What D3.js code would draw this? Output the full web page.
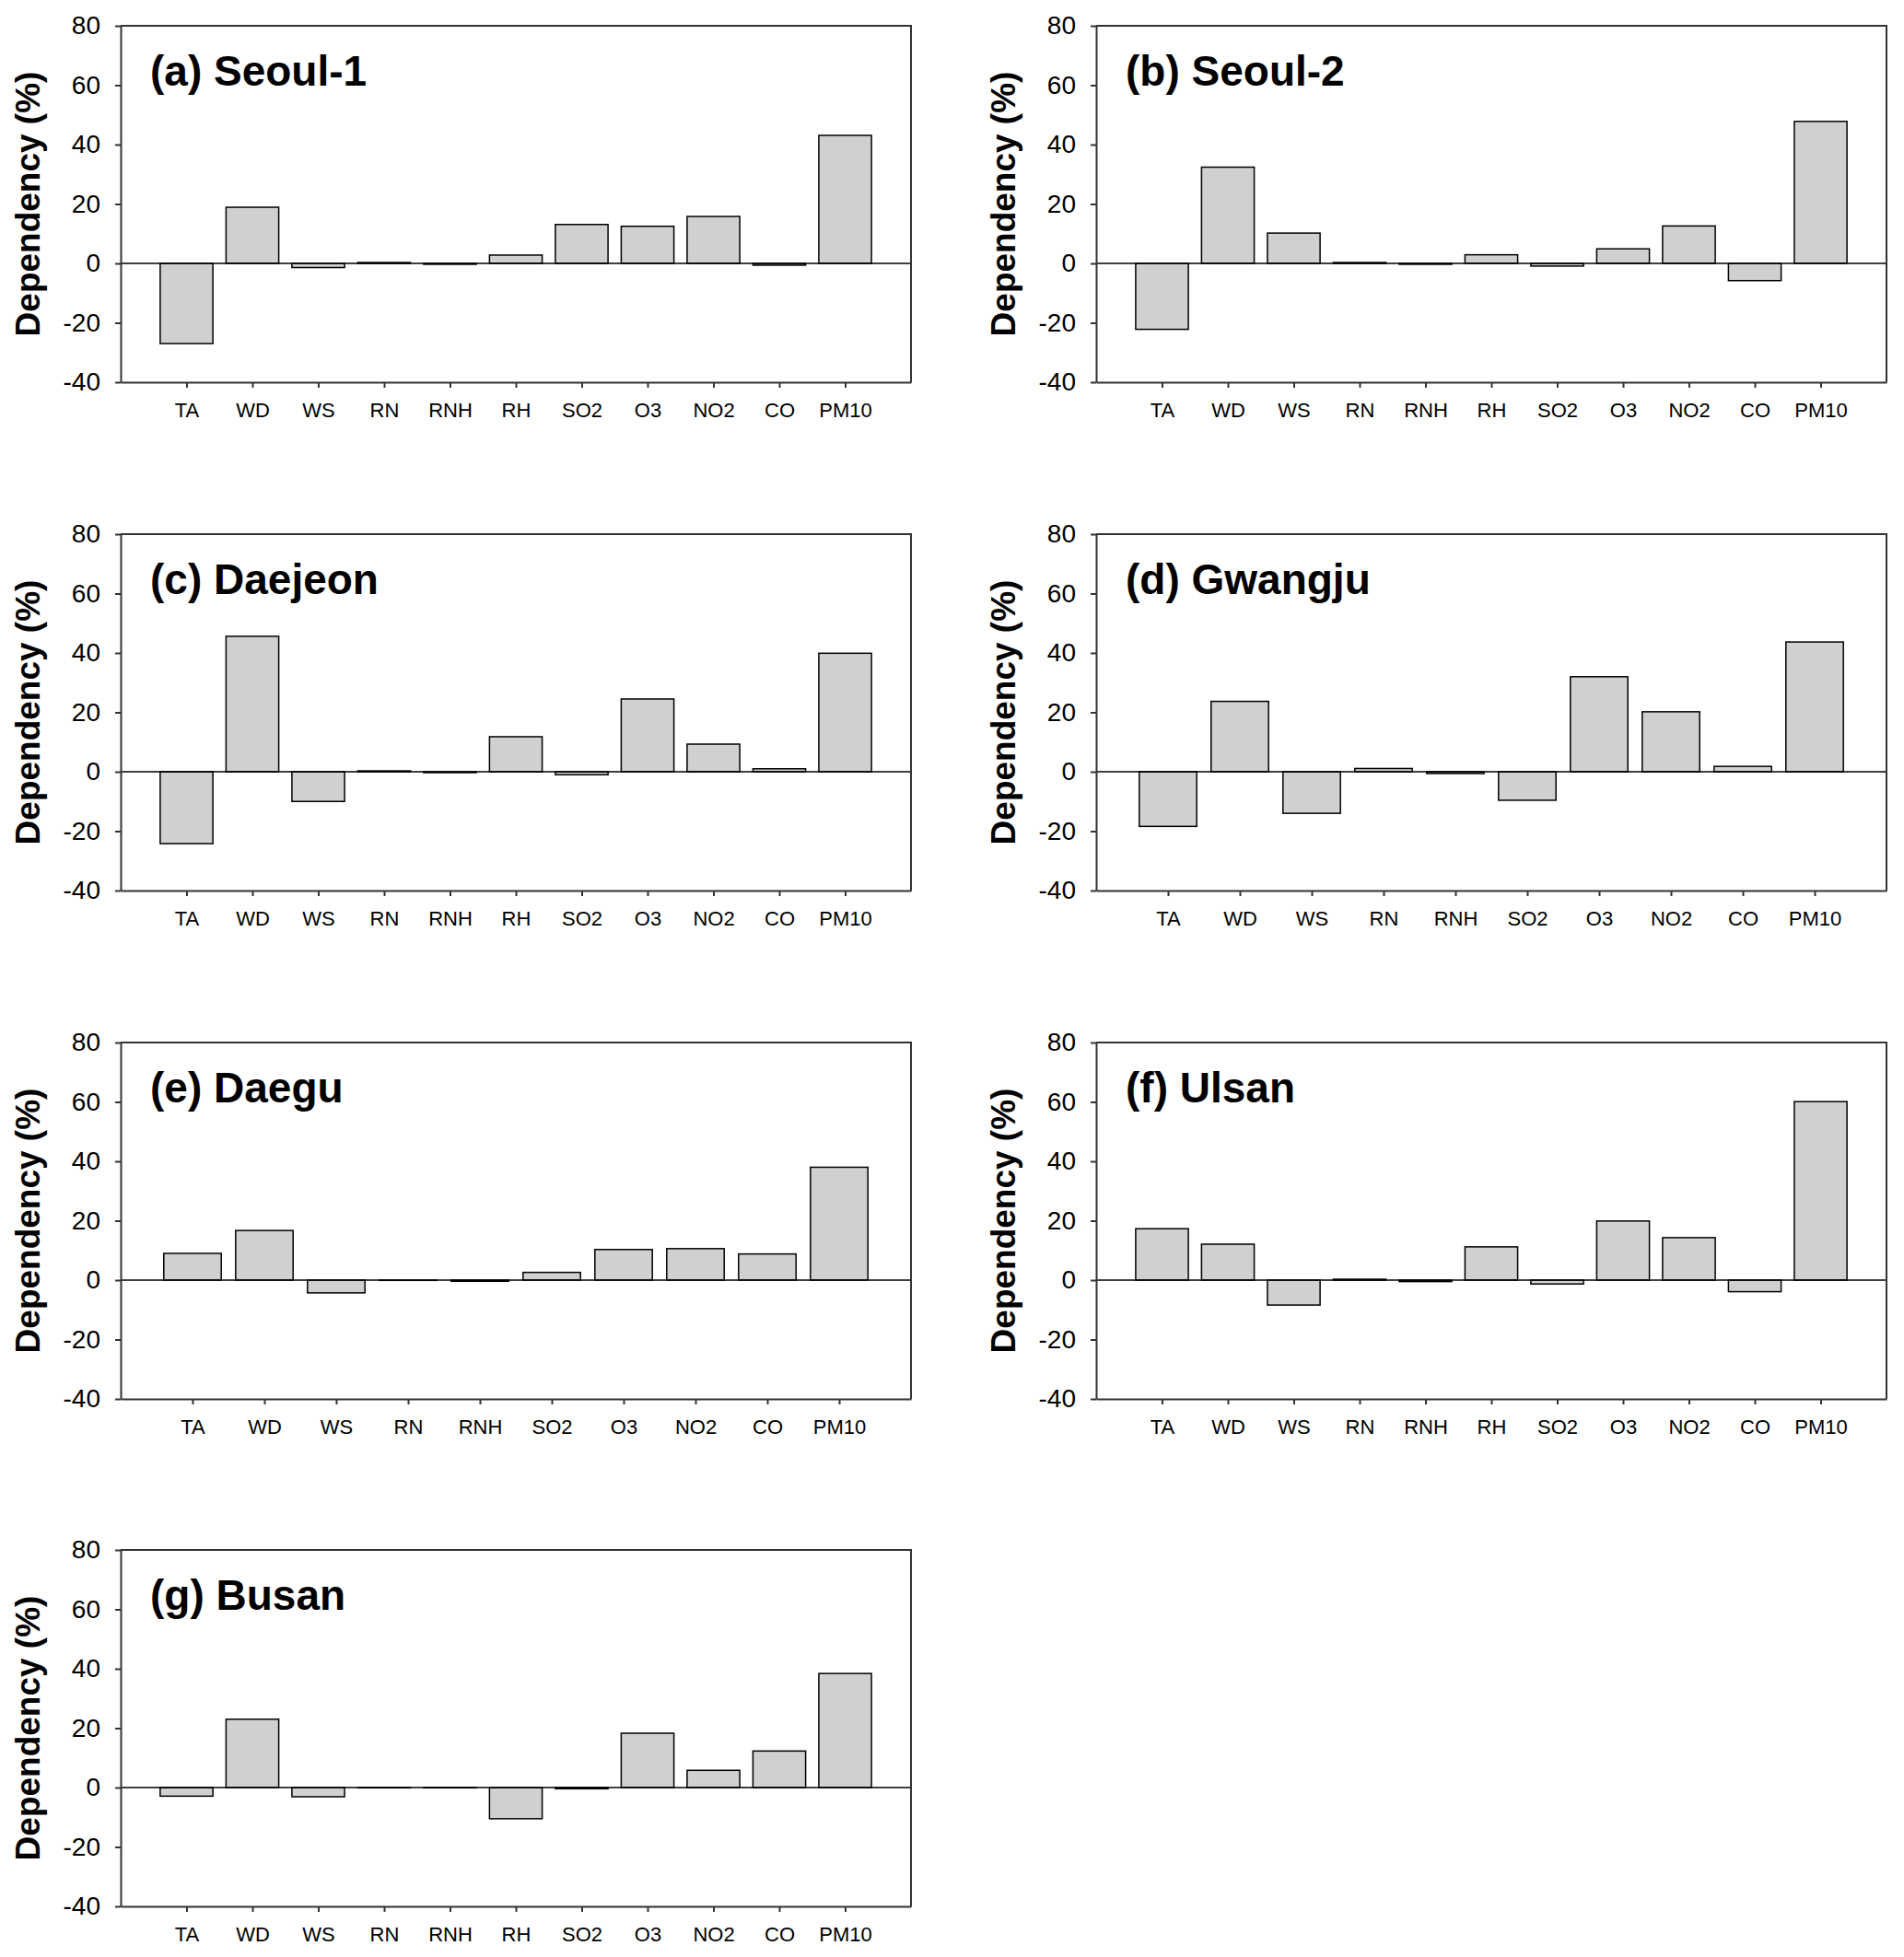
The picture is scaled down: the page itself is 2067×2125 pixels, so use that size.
<!DOCTYPE html>
<html>
<head>
<meta charset="utf-8">
<script src="https://cdn.jsdelivr.net/npm/d3@7"></script>
<style>
  body { margin: 0; background: #fff; }
  svg { display: block; font-family: "Liberation Sans", Arial, sans-serif; }
</style>
</head>
<body>
<div id="chart"></div>
<script>
// categories
var catsFull = ["TA", "WD", "WS", "RN", "RNH", "RH", "SO2", "O3", "NO2", "CO", "PM10"];
var catsNoRH = ["TA", "WD", "WS", "RN", "RNH", "SO2", "O3", "NO2", "CO", "PM10"];

// panel titles
var titles = ["(a) Seoul-1", "(b) Seoul-2", "(c) Daejeon", "(d) Gwangju", "(e) Daegu", "(f) Ulsan", "(g) Busan"];

// dependency values (%)
var seoul1  = [-27.0, 18.9, -1.4, 0.3, -0.3, 2.8, 13.1, 12.5, 15.8, -0.6, 43.1];
var seoul2  = [-22.2, 32.4, 10.2, 0.3, -0.3, 2.9, -0.9, 4.9, 12.6, -5.8, 47.8];
var daejeon = [-24.2, 45.6, -10.0, 0.3, -0.3, 11.8, -1.0, 24.5, 9.3, 1.0, 39.9];
var gwangju = [-18.4, 23.7, -14.0, 1.1, -0.6, -9.6, 32.0, 20.2, 1.8, 43.7];
var daegu   = [9.0, 16.7, -4.3, -0.1, -0.4, 2.6, 10.3, 10.6, 8.8, 38.0];
var ulsan   = [17.3, 12.1, -8.4, 0.3, -0.5, 11.2, -1.3, 19.9, 14.3, -3.9, 60.1];
var busan   = [-2.9, 23.0, -3.1, -0.1, -0.1, -10.5, -0.4, 18.3, 5.8, 12.3, 38.4];

var yTicks = [-40, -20, 0, 20, 40, 60, 80];

var panels = [
  {title: titles[0], cats: catsFull, vals: seoul1},
  {title: titles[1], cats: catsFull, vals: seoul2},
  {title: titles[2], cats: catsFull, vals: daejeon},
  {title: titles[3], cats: catsNoRH, vals: gwangju},
  {title: titles[4], cats: catsNoRH, vals: daegu},
  {title: titles[5], cats: catsFull, vals: ulsan},
  {title: titles[6], cats: catsFull, vals: busan}
];

var width = 2067, height = 2125;
var plotW = 858, plotH = 387;
var colX = [131, 1190];
var rowY = [28, 580, 1132, 1683];

var svg = d3.select("#chart").append("svg")
  .attr("width", width).attr("height", height);

panels.forEach(function(p, i) {
  var g = svg.append("g")
    .attr("transform", "translate(" + colX[i % 2] + "," + rowY[Math.floor(i / 2)] + ")");

  var x = d3.scalePoint().domain(p.cats).range([0, plotW]).padding(1);
  var y = d3.scaleLinear().domain([-40, 80]).range([plotH, 0]);
  var bw = x.step() * 0.8;

  // bars
  g.selectAll("rect.bar")
    .data(p.vals)
    .enter().append("rect")
    .attr("class", "bar")
    .attr("x", function(d, k) { return x(p.cats[k]) - bw / 2; })
    .attr("y", function(d) { return y(Math.max(0, d)); })
    .attr("width", bw)
    .attr("height", function(d) { return Math.abs(y(d) - y(0)); })
    .attr("fill", "#d0d0d0")
    .attr("stroke", "#000")
    .attr("stroke-width", 1.5);

  // zero line
  g.append("line")
    .attr("x1", 0).attr("x2", plotW)
    .attr("y1", y(0)).attr("y2", y(0))
    .attr("stroke", "#000").attr("stroke-width", 1.5);

  // frame (top + right)
  g.append("path")
    .attr("d", "M0,0H" + plotW + "V" + plotH)
    .attr("fill", "none").attr("stroke", "#333").attr("stroke-width", 2);

  // axes
  var ax = g.append("g")
    .call(d3.axisLeft(y).tickValues(yTicks).tickSize(6).tickSizeOuter(0).tickPadding(16)
      .tickFormat(function(d) { return String(d); }));
  ax.selectAll("text").attr("font-size", 28).attr("fill", "#000");
  ax.selectAll("line, path").attr("stroke", "#333").attr("stroke-width", 2);

  var bx = g.append("g")
    .attr("transform", "translate(0," + plotH + ")")
    .call(d3.axisBottom(x).tickSize(6).tickSizeOuter(0).tickPadding(16));
  bx.selectAll("text").attr("font-size", 22).attr("fill", "#000");
  bx.selectAll("line, path").attr("stroke", "#333").attr("stroke-width", 2);

  // y axis title
  g.append("text")
    .attr("transform", "translate(-101," + (plotH / 2) + ") rotate(-90)")
    .attr("text-anchor", "middle")
    .attr("dy", "0.36em")
    .attr("font-size", 37)
    .attr("font-weight", "bold")
    .text("Dependency (%)");

  // panel title
  g.append("text")
    .attr("x", 32).attr("y", 65)
    .attr("font-size", 46)
    .attr("font-weight", "bold")
    .text(p.title);
});
</script>
</body>
</html>
